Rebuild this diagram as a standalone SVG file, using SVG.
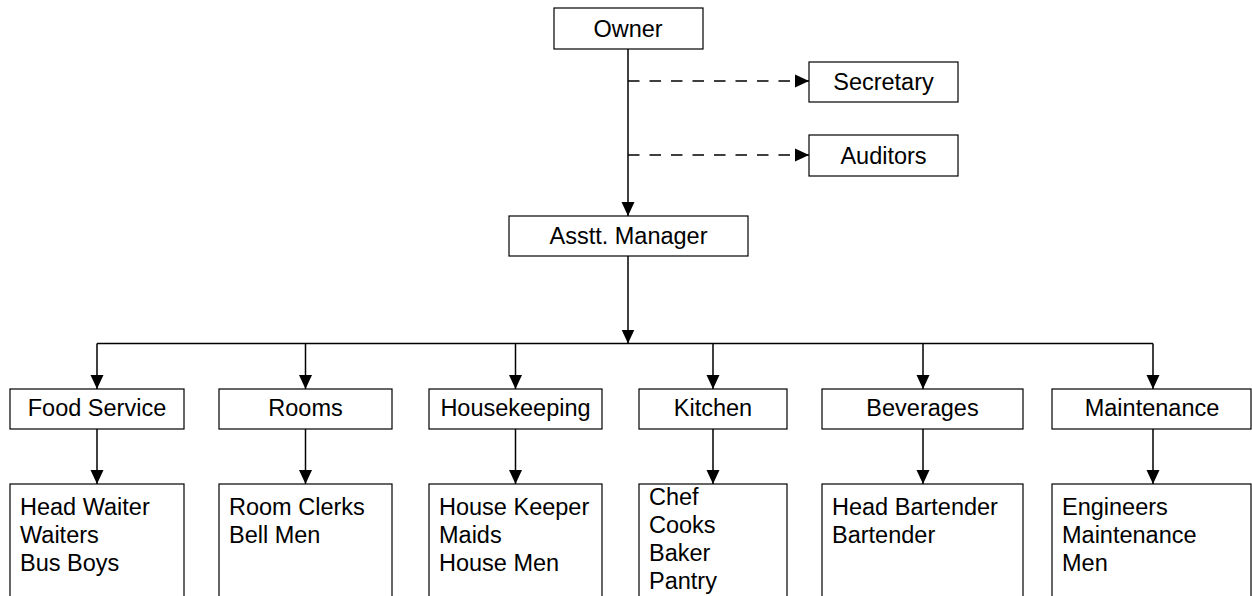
<svg xmlns="http://www.w3.org/2000/svg" width="1252" height="596" viewBox="0 0 1252 596">
  <style>
    .box { fill: #ffffff; stroke: #000000; stroke-width: 1.2; }
    .lbl { font-family: "Liberation Sans", Arial, sans-serif; font-size: 23.5px; fill: #000000; }
    .mid { text-anchor: middle; }
    .wire { fill: none; stroke: #000000; stroke-width: 1.5; }
    .dash { stroke-dasharray: 11.5 10; }
  </style>
  <defs>
    <marker id="head" markerUnits="userSpaceOnUse" markerWidth="14" markerHeight="14" viewBox="0 0 14 14" refX="14" refY="7" orient="auto">
      <path d="M0,0.5 L14,7 L0,13.5 z" fill="#000000"/>
    </marker>
  </defs>
  <rect width="1252" height="596" fill="#ffffff"/>

  <!-- connectors -->
  <g id="connectors">
    <path class="wire" d="M628,49 V216" marker-end="url(#head)"/>
    <path class="wire dash" d="M628,81 H809" marker-end="url(#head)"/>
    <path class="wire dash" d="M628,155 H809" marker-end="url(#head)"/>
    <path class="wire" d="M628,256 V343.5" marker-end="url(#head)"/>
    <path class="wire" d="M97,343.5 H1153"/>
    <path class="wire" d="M97,343.5 V389" marker-end="url(#head)"/>
    <path class="wire" d="M305.5,343.5 V389" marker-end="url(#head)"/>
    <path class="wire" d="M515.5,343.5 V389" marker-end="url(#head)"/>
    <path class="wire" d="M713,343.5 V389" marker-end="url(#head)"/>
    <path class="wire" d="M923,343.5 V389" marker-end="url(#head)"/>
    <path class="wire" d="M1153,343.5 V389" marker-end="url(#head)"/>
    <path class="wire" d="M97,429 V484" marker-end="url(#head)"/>
    <path class="wire" d="M305.5,429 V484" marker-end="url(#head)"/>
    <path class="wire" d="M515.5,429 V484" marker-end="url(#head)"/>
    <path class="wire" d="M713,429 V484" marker-end="url(#head)"/>
    <path class="wire" d="M923,429 V484" marker-end="url(#head)"/>
    <path class="wire" d="M1153,429 V484" marker-end="url(#head)"/>
  </g>

  <!-- top of the chart -->
  <g id="owner">
    <rect class="box" x="554" y="8" width="149" height="41"/>
    <text class="lbl mid" x="628" y="36.5">Owner</text>
  </g>
  <g id="secretary">
    <rect class="box" x="809" y="62" width="149" height="40"/>
    <text class="lbl mid" x="883.5" y="90">Secretary</text>
  </g>
  <g id="auditors">
    <rect class="box" x="809" y="135" width="149" height="41"/>
    <text class="lbl mid" x="883.5" y="163.5">Auditors</text>
  </g>
  <g id="asstt-manager">
    <rect class="box" x="509" y="216" width="239" height="40"/>
    <text class="lbl mid" x="628.5" y="243.5">Asstt. Manager</text>
  </g>

  <!-- departments -->
  <g id="food-service">
    <rect class="box" x="10" y="389" width="174" height="40"/>
    <text class="lbl mid" x="97" y="416">Food Service</text>
  </g>
  <g id="rooms">
    <rect class="box" x="219" y="389" width="173" height="40"/>
    <text class="lbl mid" x="305.5" y="416">Rooms</text>
  </g>
  <g id="housekeeping">
    <rect class="box" x="429" y="389" width="173" height="40"/>
    <text class="lbl mid" x="515.5" y="416">Housekeeping</text>
  </g>
  <g id="kitchen">
    <rect class="box" x="639" y="389" width="148" height="40"/>
    <text class="lbl mid" x="713" y="416">Kitchen</text>
  </g>
  <g id="beverages">
    <rect class="box" x="822" y="389" width="201" height="40"/>
    <text class="lbl mid" x="922.5" y="416">Beverages</text>
  </g>
  <g id="maintenance">
    <rect class="box" x="1052" y="389" width="199" height="40"/>
    <text class="lbl mid" x="1152" y="416">Maintenance</text>
  </g>

  <!-- staff lists -->
  <g id="food-service-staff">
    <rect class="box" x="10" y="484" width="174" height="130"/>
    <text class="lbl" x="20" y="515">Head Waiter</text>
    <text class="lbl" x="20" y="543">Waiters</text>
    <text class="lbl" x="20" y="571">Bus Boys</text>
  </g>
  <g id="rooms-staff">
    <rect class="box" x="219" y="484" width="173" height="130"/>
    <text class="lbl" x="229" y="515">Room Clerks</text>
    <text class="lbl" x="229" y="543">Bell Men</text>
  </g>
  <g id="housekeeping-staff">
    <rect class="box" x="429" y="484" width="173" height="130"/>
    <text class="lbl" x="439" y="515">House Keeper</text>
    <text class="lbl" x="439" y="543">Maids</text>
    <text class="lbl" x="439" y="571">House Men</text>
  </g>
  <g id="kitchen-staff">
    <rect class="box" x="639" y="484" width="148" height="130"/>
    <text class="lbl" x="649" y="505">Chef</text>
    <text class="lbl" x="649" y="533">Cooks</text>
    <text class="lbl" x="649" y="561">Baker</text>
    <text class="lbl" x="649" y="589">Pantry</text>
  </g>
  <g id="beverages-staff">
    <rect class="box" x="822" y="484" width="201" height="130"/>
    <text class="lbl" x="832" y="515">Head Bartender</text>
    <text class="lbl" x="832" y="543">Bartender</text>
  </g>
  <g id="maintenance-staff">
    <rect class="box" x="1052" y="484" width="199" height="130"/>
    <text class="lbl" x="1062" y="515">Engineers</text>
    <text class="lbl" x="1062" y="543">Maintenance</text>
    <text class="lbl" x="1062" y="571">Men</text>
  </g>
</svg>
